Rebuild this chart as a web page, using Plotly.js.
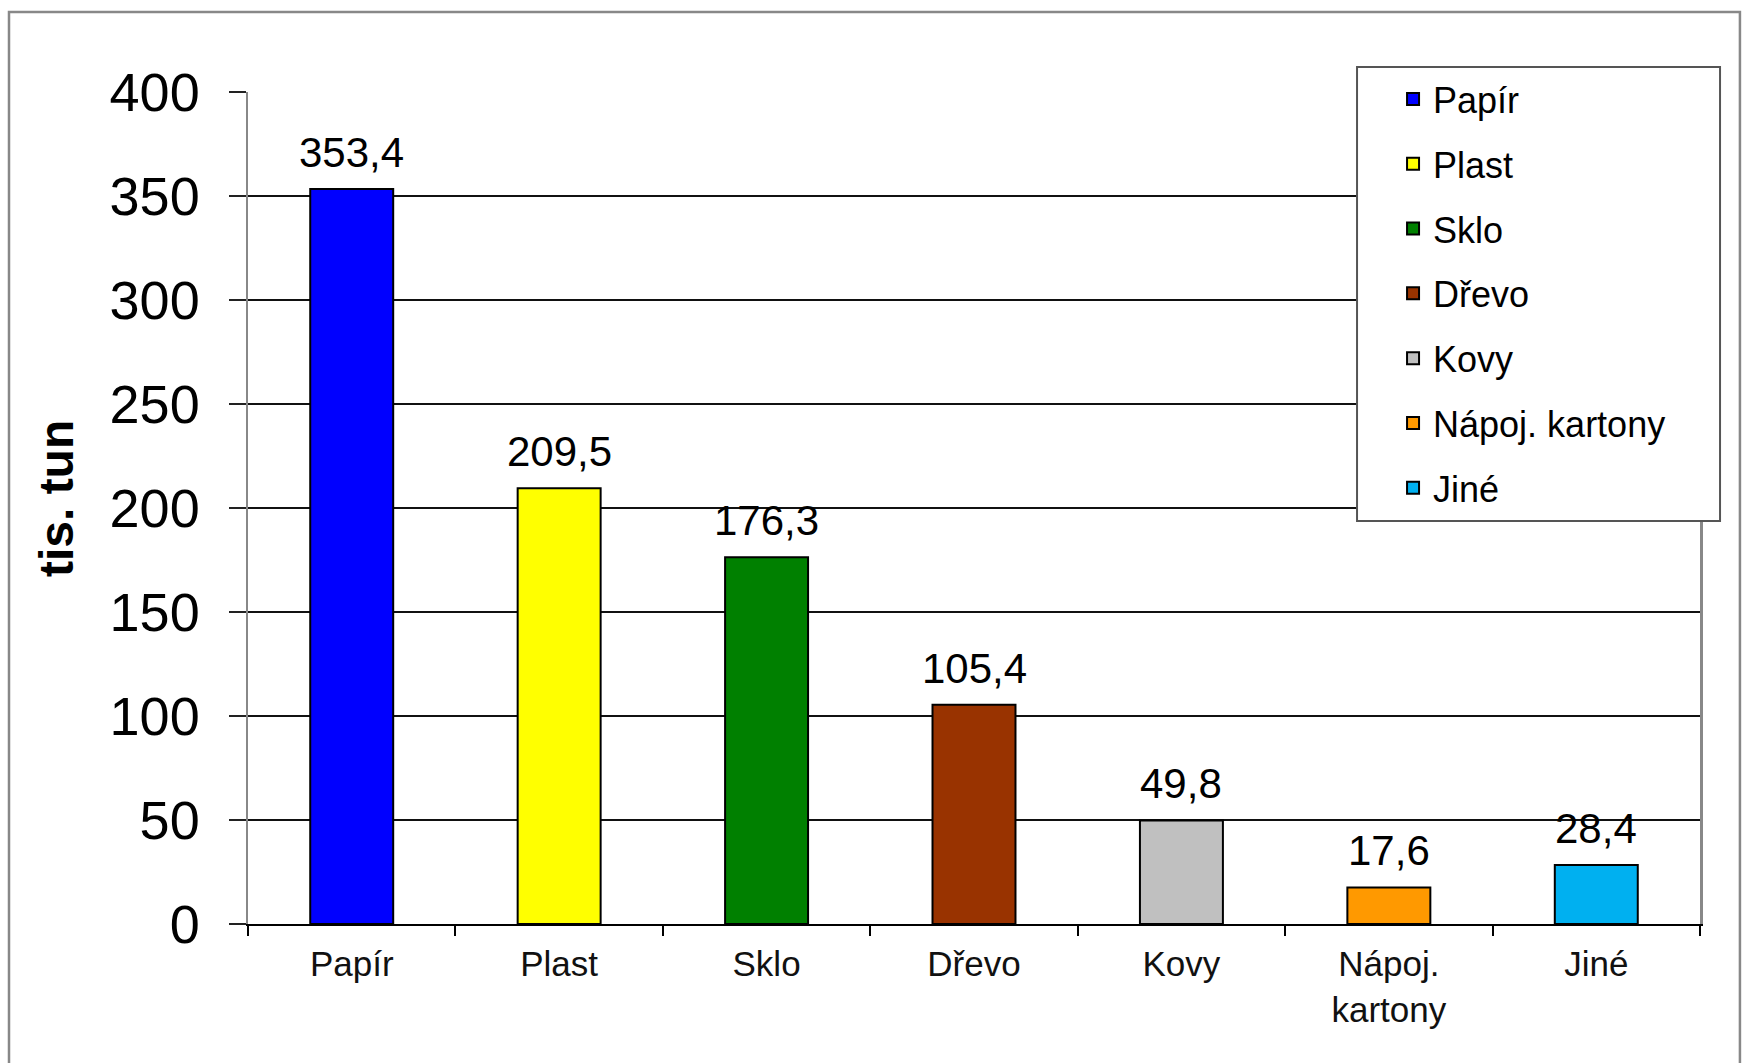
<!DOCTYPE html>
<html>
<head>
<meta charset="utf-8">
<script src="https://cdn.plot.ly/plotly-3.0.1.min.js"></script>
<style>html,body{margin:0;padding:0;background:#fff;}#chart{width:1754px;height:1063px;}</style>
</head>
<body>
<div id="chart"></div>
<script>
const categories = ["Papír", "Plast", "Sklo", "Dřevo", "Kovy", "Nápoj. kartony", "Jiné"];
const tickLabels = ["Papír", "Plast", "Sklo", "Dřevo", "Kovy", "Nápoj.<br>kartony", "Jiné"];
const values = [353.4, 209.5, 176.3, 105.4, 49.8, 17.6, 28.4];
const colors = ["#0000FF", "#FFFF00", "#008000", "#993300", "#C0C0C0", "#FF9900", "#00B0F0"];
const yTicks = [0, 50, 100, 150, 200, 250, 300, 350, 400];
const yTitle = "tis. tun";

const FONT = "Liberation Sans, Arial, sans-serif";

const traces = categories.map((c, i) => ({
  type: "bar",
  x: [c],
  y: [values[i]],
  name: c,
  legendgroup: "g" + i,
  width: 0.4,
  marker: { color: colors[i], line: { color: "#000", width: 2 } },
  hoverinfo: "x+y"
}));

const annotations = categories.map((c, i) => ({
  x: c, y: values[i], xref: "x", yref: "y",
  text: values[i].toFixed(1).replace(".", ","),
  showarrow: false, yanchor: "bottom", yshift: 11,
  font: { family: FONT, size: 42, color: "#000" }
}));

annotations.push({
  xref: "paper", yref: "paper", x: -0.1322, y: 0.5108,
  xanchor: "center", yanchor: "middle", textangle: -90,
  text: yTitle, showarrow: false,
  font: { family: FONT, size: 48, color: "#000", weight: "bold" }
});

const layout = {
  width: 1754, height: 1063,
  margin: { l: 248, r: 54, t: 92, b: 139 },
  paper_bgcolor: "#fff", plot_bgcolor: "#fff",
  font: { family: FONT, color: "#000" },
  barmode: "overlay",
  showlegend: true,
  legend: {
    x: 0.7886, y: 1.0276, xanchor: "left", yanchor: "top",
    font: { family: FONT, size: 36, color: "#000" },
    bgcolor: "rgba(0,0,0,0)", borderwidth: 0,
    tracegroupgap: 15
  },
  xaxis: {
    type: "category",
    categoryorder: "array", categoryarray: categories,
    tickmode: "array", tickvals: categories, ticktext: tickLabels,
    tickson: "boundaries",
    ticks: "outside", ticklen: 10, tickwidth: 2, tickcolor: "#000",
    showline: true, linecolor: "#000", linewidth: 2,
    showgrid: false, zeroline: false,
    tickfont: { family: FONT, size: 35, color: "#111" },
    ticklabelstandoff: 8,
    fixedrange: true
  },
  yaxis: {
    range: [0, 400],
    tickmode: "array", tickvals: yTicks,
    ticks: "outside", ticklen: 17, tickwidth: 1.5, tickcolor: "#222",
    showgrid: true, gridcolor: "#111", gridwidth: 1.5,
    showline: true, linecolor: "#888", linewidth: 2.5, mirror: true,
    zeroline: false,
    tickfont: { family: FONT, size: 54, color: "#000" },
    ticklabelstandoff: 18,
    automargin: false,
    fixedrange: true
  },
  shapes: [
    { type: "rect", xref: "paper", yref: "paper",
      x0: 0.7638, x1: 1.0138, y0: 0.4844, y1: 1.030,
      fillcolor: "#fff", line: { color: "#555", width: 2 }, layer: "above" },
    { type: "rect", xref: "paper", yref: "paper",
      x0: -0.1646, x1: 1.0275, y0: -0.175, y1: 1.0962,
      fillcolor: "rgba(0,0,0,0)", line: { color: "#888", width: 2.5 }, layer: "below" }
  ],
  annotations: annotations
};

Plotly.newPlot("chart", traces, layout, { displayModeBar: false, staticPlot: true });
</script>
</body>
</html>
